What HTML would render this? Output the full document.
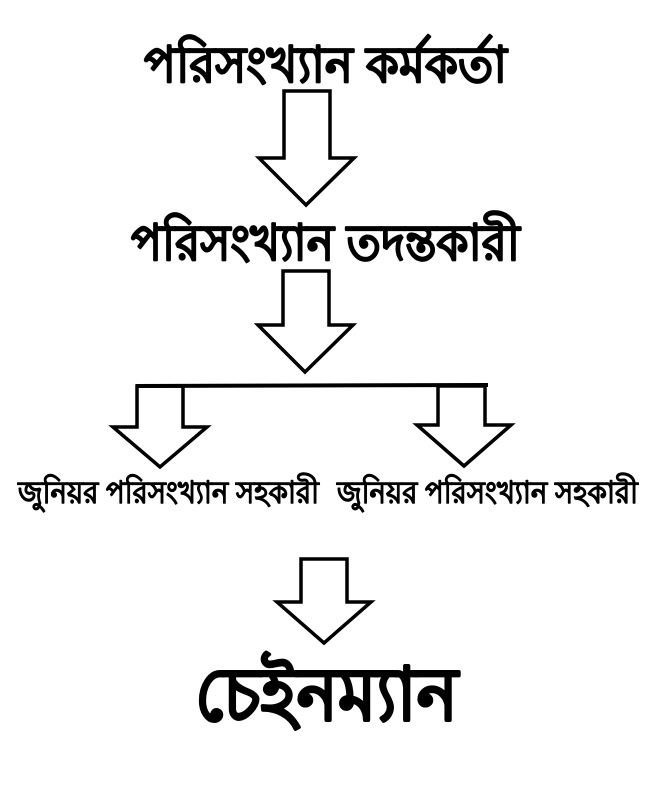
<!DOCTYPE html>
<html><head><meta charset="utf-8"><style>
html,body{margin:0;padding:0;background:#fff;width:658px;height:786px;overflow:hidden}
svg{display:block}
text{font-family:"Liberation Sans","Noto Sans CJK SC",sans-serif;font-weight:bold;fill:#000;stroke:#000;stroke-linejoin:round}
</style></head><body>
<svg width="658" height="786" viewBox="0 0 658 786" xmlns="http://www.w3.org/2000/svg">
<g fill="#fff" stroke="#000" stroke-width="3.5" stroke-linejoin="miter">
<polygon points="284,91 330,91 330,158 354,158 306,205 259,158 284,158"/>
<polygon points="283,271 329,271 329,325 353,325 305,372 258,325 283,325"/>
<polygon points="137,386 183,386 183,427 207,427 160,467 113,427 137,427"/>
<polygon points="438,386 485,386 485,425 511,425 464,466 417,425 438,425"/>
<polygon points="301,559 347,559 347,602 371,602 324,643 277,602 301,602"/>
</g>
<line x1="136" y1="386" x2="488" y2="385" stroke="#000" stroke-width="4"/>
<text x="144" y="82" font-size="50" stroke-width="1.1" textLength="363" lengthAdjust="spacingAndGlyphs">পরিসংখ্যান কর্মকর্তা</text>
<text x="131" y="260" font-size="50" stroke-width="1.1" textLength="389" lengthAdjust="spacingAndGlyphs">পরিসংখ্যান তদন্তকারী</text>
<text x="18" y="503" font-size="31" stroke-width="0.5" textLength="301" lengthAdjust="spacingAndGlyphs">জুনিয়র পরিসংখ্যান সহকারী</text>
<text x="337" y="503" font-size="31" stroke-width="0.5" textLength="301" lengthAdjust="spacingAndGlyphs">জুনিয়র পরিসংখ্যান সহকারী</text>
<text x="195" y="720" font-size="74" stroke-width="1.6" textLength="263" lengthAdjust="spacingAndGlyphs">চেইনম্যান</text>
</svg>
</body></html>
